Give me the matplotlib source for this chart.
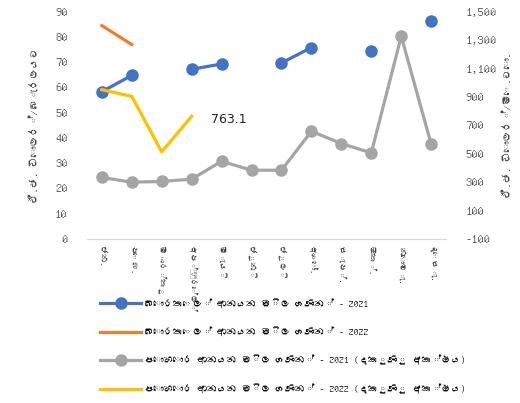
import numpy as np
import matplotlib
matplotlib.use('Agg')
import matplotlib.pyplot as plt
import matplotlib.font_manager as fm
from fontTools.ttLib import TTFont

# data
months = ['ජන.', 'පෙබ.', 'මාර්තු', 'අප්‍රේල්', 'මැයි', 'ජූනි', 'ජූලි',
          'අගෝ.', 'සැප්.', 'ඔක්.', 'නොවැ.', 'දෙසැ.']
oil_2021 = [58.3, 64.8, np.nan, 67.2, 69.3, np.nan, 69.7, 75.8, np.nan, 74.4, np.nan, 86.4]
oil_2022 = [84.5, 77.0]
fert_2021 = [333, 300, 305, 321, 447, 384, 384, 658, 572, 506, 1327, 567]
fert_2022 = [951, 904, 513, 763.1]

labels = ['බොරතෙල් ආනයන මිල ගණන් - 2021',
          'බොරතෙල් ආනයන මිල ගණන් - 2022',
          'පොහොර ආනයන මිල ගණන් - 2021 (දකුණු අක්ෂය)',
          'පොහොර ආනයන මිල ගණන් - 2022 (දකුණු අක්ෂය)']
left_label = 'ඒ.ජ. ඩොලර්/බැරලයට'
right_label = 'ඒ.ජ. ඩොලර්/මෙ.ටො.'


#%% look for a font that has sinhala glyphs
def find_sinhala():
    for f in fm.findSystemFonts():
        try:
            cmap = TTFont(f, fontNumber=0, lazy=True).getBestCmap()
            if cmap and 0x0DA2 in cmap:
                return f
        except Exception:
            pass
    return None

path = find_sinhala()
fams = ['DejaVu Sans']
if path:
    fm.fontManager.addfont(path)
    fams = [fm.FontProperties(fname=path).get_name(), 'DejaVu Sans']
plt.rcParams['font.family'] = fams

#%% plot
fig = plt.figure(figsize=(5.2, 4.03), dpi=100)
ax = fig.add_axes([0.167, 0.407, 0.691, 0.564])
ax2 = ax.twinx()
x = np.arange(len(months))

l1, = ax.plot(x, oil_2021, '-o', color='#4472C4', lw=2.3, ms=8)
l2, = ax.plot(x[:len(oil_2022)], oil_2022, '-', color='#ED7D31', lw=2.3)
l3, = ax2.plot(x, fert_2021, '-o', color='#A5A5A5', lw=2.3, ms=8)
l4, = ax2.plot(x[:len(fert_2022)], fert_2022, '-', color='#FFC000', lw=2.3)
ax2.annotate('{:.1f}'.format(fert_2022[-1]), (x[len(fert_2022) - 1], fert_2022[-1]),
             xytext=(14, -2), textcoords='offset points', fontsize=9,
             color='#222222', va='center', family=['DejaVu Sans'])

ax.set_xlim(-0.5, 11.5)
ax.set_ylim(0, 90)
ax.set_yticks(range(0, 91, 10))
ax2.set_ylim(-100, 1500)
ax2.set_yticks(range(-100, 1501, 200))
ax2.set_yticklabels(['{:,}'.format(v) for v in range(-100, 1501, 200)])

for a in (ax, ax2):
    for s in a.spines.values():
        s.set_visible(False)
    a.tick_params(length=0, labelsize=9, colors='#404040')
ax.spines['bottom'].set_visible(True)
ax.spines['bottom'].set_color('#d9d9d9')
ax.set_xticks(x)
ax.set_xticklabels(months, rotation=-90, fontsize=6)
ax.tick_params(axis='x', pad=5)
ax.tick_params(axis='y', pad=14)
ax2.tick_params(axis='y', pad=14)

ax.set_ylabel(left_label, fontsize=7.5, color='#404040', labelpad=12)
ax2.set_ylabel(right_label, fontsize=7.5, color='#404040', rotation=90, labelpad=4)

fig.legend([l1, l2, l3, l4], labels, loc='upper left', bbox_to_anchor=(0.185, 0.27),
           frameon=False, fontsize=7, handlelength=4.2, handletextpad=0.3,
           labelspacing=1.9, borderaxespad=0)

fig.savefig('out.png', dpi=100)
